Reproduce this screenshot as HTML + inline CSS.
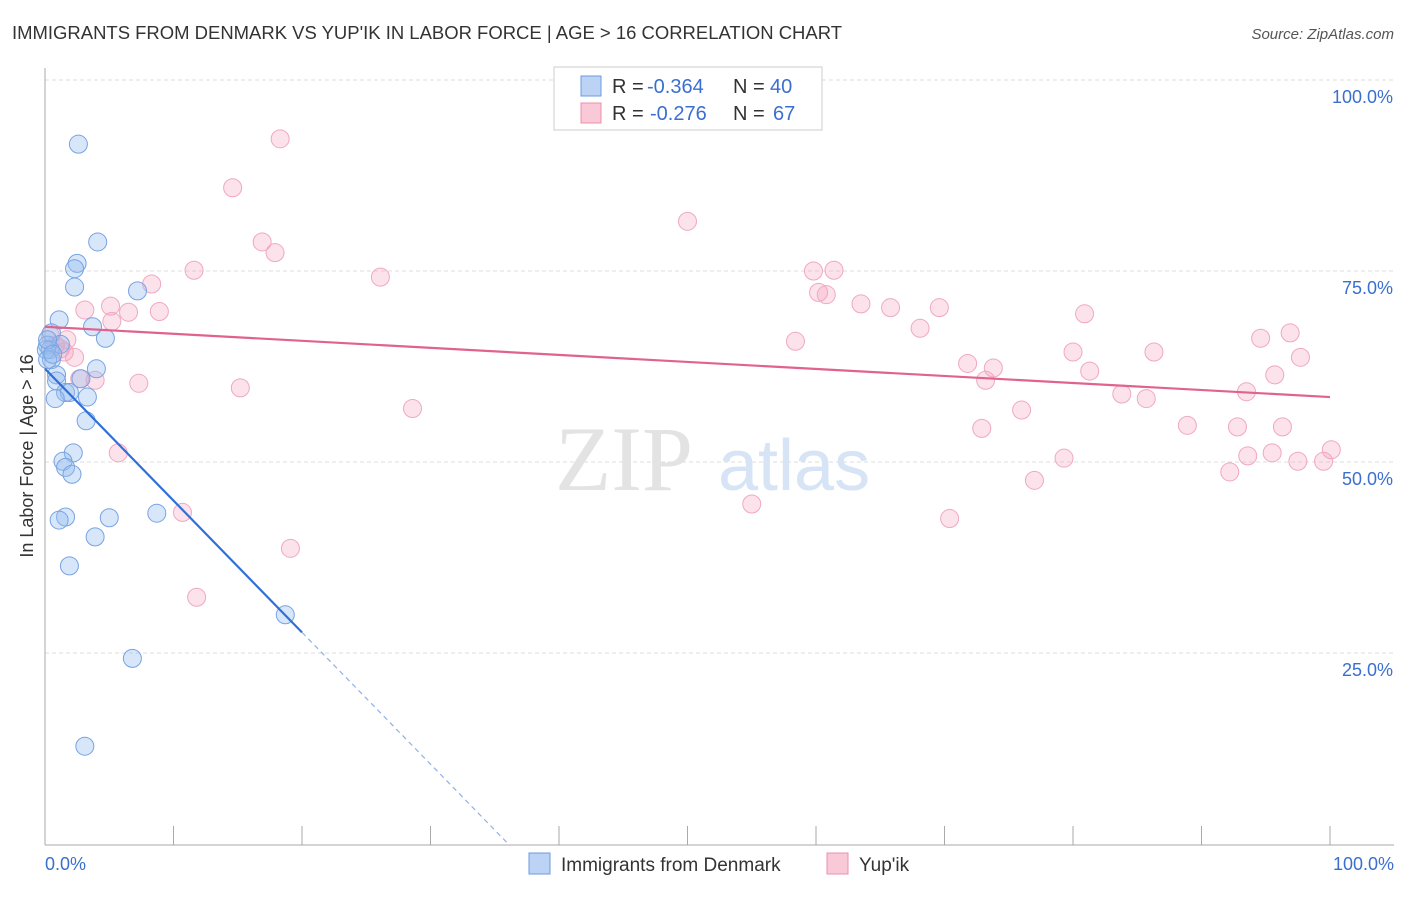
<!DOCTYPE html>
<html><head><meta charset="utf-8"><style>
body{margin:0;background:#fff;font-family:"Liberation Sans",sans-serif;}
svg text{font-family:"Liberation Sans",sans-serif;}
</style></head><body>
<svg width="1406" height="892" viewBox="0 0 1406 892">
<text x="12" y="39" font-size="18" fill="#333" textLength="830" lengthAdjust="spacingAndGlyphs">IMMIGRANTS FROM DENMARK VS YUP'IK IN LABOR FORCE | AGE &gt; 16 CORRELATION CHART</text>
<text x="1394" y="39" font-size="15" fill="#555" font-style="italic" text-anchor="end">Source: ZipAtlas.com</text>
<g id="grid"></g>
<g>
<text x="555" y="490" font-size="92" fill="#e3e3e3" font-family="Liberation Serif" style="font-family:'Liberation Serif',serif">ZIP</text>
<text x="718" y="490" font-size="72" fill="#d6e4f5">atlas</text>
</g>
<line x1="45" y1="68" x2="45" y2="845" stroke="#aaa"/>
<line x1="45" y1="845" x2="1394" y2="845" stroke="#aaa"/>
<text transform="translate(33,456) rotate(-90)" font-size="18" fill="#333" text-anchor="middle">In Labor Force | Age &gt; 16</text>
<text x="45" y="870" font-size="18" fill="#3a6fd0">0.0%</text>
<text x="1394" y="870" font-size="18" fill="#3a6fd0" text-anchor="end">100.0%</text>
<g id="pts"></g>
<g id="lines"></g>
<g>
<rect x="554" y="67" width="268" height="63" fill="#fff" stroke="#ccc"/>
<rect x="581" y="76" width="20" height="20" fill="#bcd3f5" stroke="#6b9be0"/>
<rect x="581" y="103" width="20" height="20" fill="#f9c9d8" stroke="#ec8fae"/>
<text x="612" y="93" font-size="20" fill="#333">R =</text>
<text x="647" y="93" font-size="20" fill="#3a6fd0">-0.364</text>
<text x="733" y="93" font-size="20" fill="#333">N =</text>
<text x="770" y="93" font-size="20" fill="#3a6fd0">40</text>
<text x="612" y="120" font-size="20" fill="#333">R =</text>
<text x="650" y="120" font-size="20" fill="#3a6fd0">-0.276</text>
<text x="733" y="120" font-size="20" fill="#333">N =</text>
<text x="773" y="120" font-size="20" fill="#3a6fd0">67</text>
</g>
<g>
<rect x="529" y="853" width="21" height="21" fill="#bcd3f5" stroke="#6b9be0"/>
<text x="561" y="871" font-size="19" fill="#333">Immigrants from Denmark</text>
<rect x="827" y="853" width="21" height="21" fill="#f9c9d8" stroke="#ec8fae"/>
<text x="859" y="871" font-size="19" fill="#333">Yup'ik</text>
</g>
</svg>
<script>
const yTicks=[25,50,75,100];
const yTickLabels=["25.0%","50.0%","75.0%","100.0%"];
const xTicks=[10,20,30,40,50,60,70,80,90,100];
const blueX=[2.6,4.1,2.5,2.3,2.3,7.2,1.1,3.7,4.7,0.5,0.2,1.2,0.4,0.5,4.0,0.9,0.9,2.8,1.6,1.9,0.8,3.3,3.2,2.2,1.4,1.6,2.1,1.6,1.1,5.0,8.7,3.9,1.9,18.7,6.8,3.1,0.1,0.2,0.2,0.6];
const blueY=[91.6,78.8,76.0,75.3,72.9,72.4,68.6,67.7,66.2,66.9,65.3,65.4,64.7,63.4,62.2,61.4,60.6,60.9,59.1,59.1,58.3,58.5,55.4,51.2,50.1,49.3,48.4,42.8,42.4,42.7,43.3,40.2,36.4,30.0,24.3,12.8,64.7,66.0,63.4,64.1];
const pinkX=[41.2,18.3,14.6,50.0,16.9,17.9,11.6,8.3,26.1,59.8,61.4,60.2,60.8,5.1,3.1,8.9,6.5,63.5,65.8,69.6,68.1,5.2,80.9,58.4,94.6,96.9,1.7,1.2,2.3,80.0,86.3,97.7,71.8,73.8,81.3,73.2,95.7,3.9,2.7,7.3,15.2,83.8,85.7,93.5,28.6,76.0,88.9,72.9,92.8,96.3,5.7,79.3,95.5,93.6,100.1,97.5,99.5,92.2,77.0,55.0,10.7,70.4,19.1,11.8,0.4,0.8,1.5];
const pinkY=[100.0,92.3,85.9,81.5,78.8,77.4,75.1,73.3,74.2,75.0,75.1,72.2,71.9,70.4,69.9,69.7,69.6,70.7,70.2,70.2,67.5,68.4,69.4,65.8,66.2,66.9,66.0,64.8,63.7,64.4,64.4,63.7,62.9,62.3,61.9,60.7,61.4,60.7,60.9,60.3,59.7,58.9,58.3,59.2,57.0,56.8,54.8,54.4,54.6,54.6,51.2,50.5,51.2,50.8,51.6,50.1,50.1,48.7,47.6,44.5,43.4,42.6,38.7,32.3,66.6,65.3,64.4];
const blueTrend=[62.2,-1.725];
const pinkTrend=[67.7,-0.092];
const X=v=>45+v*12.85, Y=v=>844-v*7.64;
const NS="http://www.w3.org/2000/svg";
function mk(t,a,p){const e=document.createElementNS(NS,t);for(const k in a)e.setAttribute(k,a[k]);p.appendChild(e);return e;}
const g=document.getElementById('grid');
yTicks.forEach((t,i)=>{
 const l=mk('line',{x1:45,x2:1394,y1:Y(t),y2:Y(t),stroke:'#ddd','stroke-dasharray':'4,3'},g);
 
 
 const tx=mk('text',{x:1393,y:Y(t)+23,'font-size':18,fill:'#3a6fd0','text-anchor':'end'},g);
 tx.textContent=yTickLabels[i];
 
 
});
xTicks.forEach(t=>{
 const l=mk('line',{x1:X(t),x2:X(t),y1:826,y2:845,stroke:'#aaa'},g);
 
 
});
const p=document.getElementById('pts');
pinkX.forEach((v,i)=>{
 const c=mk('circle',{cx:X(v),cy:Y(pinkY[i]),r:9,fill:'rgba(244,160,190,0.3)',stroke:'#f0a8c2','stroke-width':1},p);
 
 
});
blueX.forEach((v,i)=>{
 const c=mk('circle',{cx:X(v),cy:Y(blueY[i]),r:9,fill:'rgba(150,190,240,0.38)',stroke:'#78a3e2','stroke-width':1},p);
 
 
});
const L=document.getElementById('lines');
const pl=mk('line',{x1:X(0),y1:Y(pinkTrend[0]),x2:X(100),y2:Y(pinkTrend[0]+pinkTrend[1]*100),stroke:'#e0628e','stroke-width':2.2},L);


const bEnd=20, bZero=-blueTrend[0]/blueTrend[1];
const bl=mk('line',{x1:X(0),y1:Y(blueTrend[0]),x2:X(bEnd),y2:Y(blueTrend[0]+blueTrend[1]*bEnd),stroke:'#2f6fd8','stroke-width':2.2},L);


const bd=mk('line',{x1:X(bEnd),y1:Y(blueTrend[0]+blueTrend[1]*bEnd),x2:X(bZero),y2:Y(0),stroke:'#8fb0e6','stroke-width':1.2,'stroke-dasharray':'5,4'},L);


</script>
</body></html>
